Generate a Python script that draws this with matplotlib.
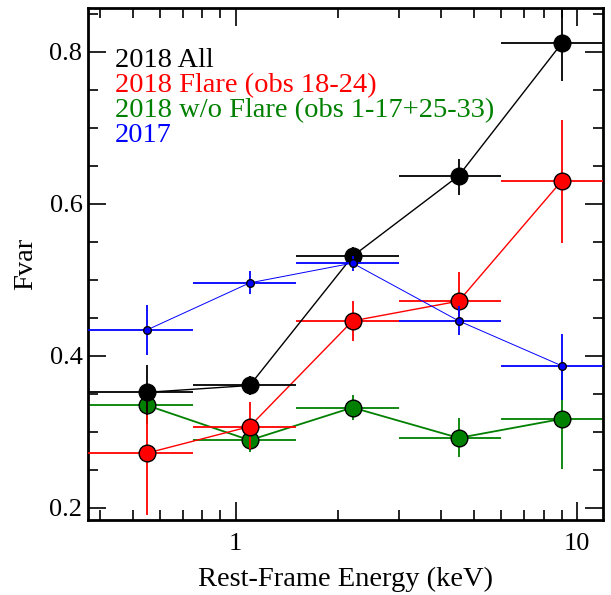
"""Fvar spectra: 2018 all / flare / non-flare and 2017."""
import matplotlib
matplotlib.use("Agg")
import matplotlib.pyplot as plt
import numpy as np
from matplotlib.ticker import FixedLocator, MultipleLocator, NullFormatter

plt.rcParams["font.family"] = ["Liberation Serif", "DejaVu Serif"]
plt.rcParams["mathtext.fontset"] = "stix"

# energy bins (keV)
energy = np.array([0.55, 1.1, 2.2, 4.5, 9.0])
e_lo = np.array([0.3, 0.75, 1.5, 3.0, 6.0])
e_hi = np.array([0.75, 1.5, 3.0, 6.0, 12.5])

# Fvar values and errors (lower, upper)
all18 = np.array([0.352, 0.361, 0.531, 0.637, 0.811])
all18_lo = np.array([0.03, 0.012, 0.012, 0.025, 0.05])
all18_hi = np.array([0.036, 0.012, 0.012, 0.022, 0.06])

flare18 = np.array([0.272, 0.307, 0.446, 0.472, 0.630])
flare18_lo = np.array([0.082, 0.03, 0.026, 0.025, 0.082])
flare18_hi = np.array([0.07, 0.032, 0.026, 0.038, 0.08])

quiet18 = np.array([0.335, 0.289, 0.332, 0.292, 0.317])
quiet18_lo = np.array([0.025, 0.016, 0.016, 0.025, 0.066])
quiet18_hi = np.array([0.025, 0.02, 0.016, 0.026, 0.068])

y2017 = np.array([0.434, 0.496, 0.522, 0.446, 0.387])
y2017_lo = np.array([0.033, 0.015, 0.01, 0.018, 0.045])
y2017_hi = np.array([0.033, 0.015, 0.01, 0.02, 0.042])

labels = ["2018 All", "2018 Flare (obs 18-24)",
          "2018 w/o Flare (obs 1-17+25-33)", "2017"]
colors = ["black", "red", "green", "blue"]


def main():
    fig = plt.figure(figsize=(6.11, 5.95), dpi=100)
    ax = fig.add_axes([0.144, 0.126, 0.843, 0.861])
    xerr = [energy - e_lo, e_hi - energy]

    series = [
        (quiet18, quiet18_lo, quiet18_hi, "green", 12, 1.3, 2),
        (flare18, flare18_lo, flare18_hi, "red", 12, 1.0, 3),
        (all18, all18_lo, all18_hi, "black", 12, 1.0, 4),
        (y2017, y2017_lo, y2017_hi, "blue", 5.5, 0.7, 5),
    ]
    for y, lo, hi, c, ms, lw, z in series:
        ax.errorbar(energy, y, xerr=xerr, yerr=[lo, hi], fmt="none",
                    ecolor=c, elinewidth=1.3, capsize=0, zorder=z)
        ax.plot(energy, y, "-", color=c, lw=lw, zorder=z)
        ax.plot(energy, y, "o", ms=ms, mfc=c, mec="black", mew=1.0, zorder=z + 0.1)

    ax.set_xscale("log")
    ax.set_xlim(0.37, 11.9)
    ax.set_ylim(0.184, 0.858)
    ax.set_xticks([1, 10])
    ax.set_xticklabels(["1", "10"])
    minors = [0.4, 0.5, 0.6, 0.7, 0.8, 0.9, 2, 3, 4, 5, 6, 7, 8, 9]
    ax.xaxis.set_minor_locator(FixedLocator(minors))
    ax.xaxis.set_minor_formatter(NullFormatter())
    ax.yaxis.set_major_locator(MultipleLocator(0.2))
    ax.yaxis.set_minor_locator(MultipleLocator(0.05))
    ax.set_yticks([0.2, 0.4, 0.6, 0.8])
    ax.set_yticklabels(["0.2", "0.4", "0.6", "0.8"])

    ax.tick_params(which="both", direction="in", top=True, right=True,
                   labelsize=19, width=1.2)
    ax.tick_params(axis="y", pad=4)
    ax.tick_params(axis="x", pad=9)
    ax.tick_params(which="major", length=13)
    ax.tick_params(which="minor", length=7)
    for sp in ax.spines.values():
        sp.set_linewidth(2)

    ax.set_xlabel("Rest-Frame Energy (keV)", fontsize=20.5, labelpad=9)
    ax.set_ylabel("Fvar", fontsize=20.5, labelpad=8)

    for i, (t, c) in enumerate(zip(labels, colors)):
        ax.text(0.052, 0.885 - i * 0.049, t, color=c, fontsize=20.5,
                transform=ax.transAxes, va="baseline", ha="left")

    fig.savefig("out.png", dpi=100)


if __name__ == "__main__":
    main()
